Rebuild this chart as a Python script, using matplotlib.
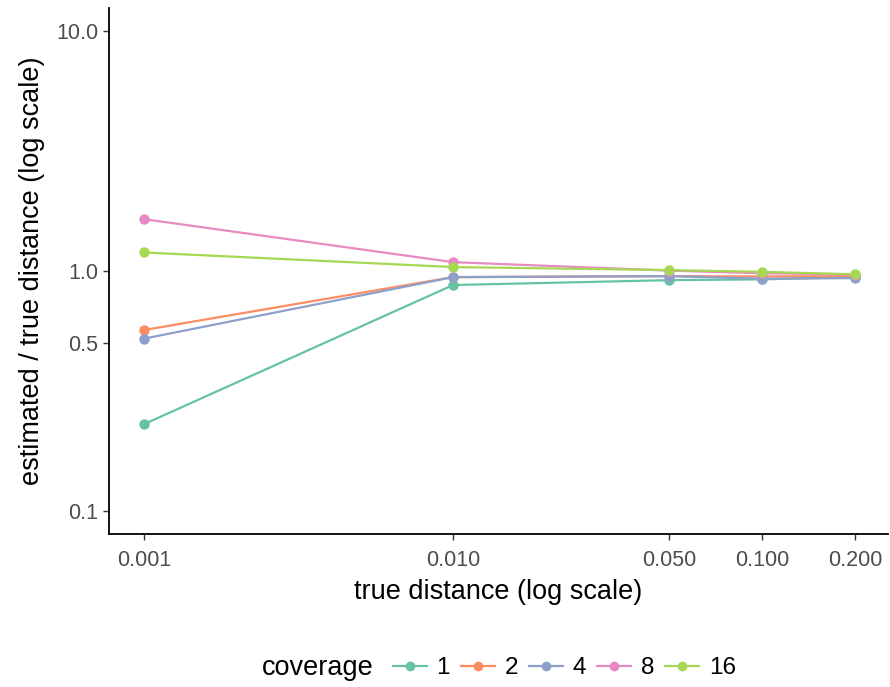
import numpy as np
import matplotlib
matplotlib.use("Agg")
import matplotlib.pyplot as plt
from matplotlib.ticker import FixedLocator, FixedFormatter, NullLocator
from matplotlib.lines import Line2D
from matplotlib.offsetbox import HPacker

plt.rcParams["font.family"] = ["Liberation Sans", "DejaVu Sans"]

# ── Data ──────────────────────────────────────────────────────────────────────
true_dist = [0.001, 0.010, 0.050, 0.100, 0.200]
coverage = ["1", "2", "4", "8", "16"]
ratio_cov1 = [0.230, 0.875, 0.917, 0.924, 0.944]
ratio_cov2 = [0.568, 0.944, 0.953, 0.950, 0.953]
ratio_cov4 = [0.523, 0.944, 0.953, 0.930, 0.935]
ratio_cov8 = [1.647, 1.090, 1.005, 0.980, 0.967]
ratio_cov16 = [1.196, 1.040, 1.010, 0.993, 0.970]
series = [ratio_cov1, ratio_cov2, ratio_cov4, ratio_cov8, ratio_cov16]
colors = ["#66C2A5", "#FC8D62", "#8DA0CB", "#E78AC3", "#A6D854"]

x_ticks = [0.001, 0.010, 0.050, 0.100, 0.200]
x_labels = ["0.001", "0.010", "0.050", "0.100", "0.200"]
y_ticks = [0.1, 0.5, 1.0, 10.0]
y_labels = ["0.1", "0.5", "1.0", "10.0"]

# ── Figure ────────────────────────────────────────────────────────────────────
fig = plt.figure(figsize=(8.9, 6.87), dpi=100)
ax = fig.add_axes([0.1225, 0.2227, 0.8755, 0.7653])

for vals, col in zip(series, colors):
    ax.plot(true_dist, vals, color=col, linewidth=1.6, zorder=2)
for vals, col in zip(series, colors):
    ax.plot(true_dist, vals, "o", color=col, markersize=7.5,
            markeredgewidth=0, zorder=3)

ax.set_xscale("log")
ax.set_yscale("log")
ax.set_xlim(10 ** -3.113, 10 ** -0.592)
ax.set_ylim(10 ** -1.096, 10 ** 1.096)

ax.xaxis.set_major_locator(FixedLocator(x_ticks))
ax.xaxis.set_major_formatter(FixedFormatter(x_labels))
ax.xaxis.set_minor_locator(NullLocator())
ax.yaxis.set_major_locator(FixedLocator(y_ticks))
ax.yaxis.set_major_formatter(FixedFormatter(y_labels))
ax.yaxis.set_minor_locator(NullLocator())

for sp in ["top", "right"]:
    ax.spines[sp].set_visible(False)
for sp in ["left", "bottom"]:
    ax.spines[sp].set_linewidth(1.3)
    ax.spines[sp].set_color("black")

ax.tick_params(axis="both", which="major", length=4.5, width=1.0,
               color="#333333", labelcolor="#4D4D4D", labelsize=15.5, pad=3)
ax.tick_params(axis="x", pad=7)

ax.set_xlabel("true distance (log scale)", fontsize=19.5, color="black", labelpad=6)
ax.set_ylabel("estimated / true distance (log scale)", fontsize=19.5, color="black",
              labelpad=8)

# ── Legend ────────────────────────────────────────────────────────────────────
handles = [Line2D([0], [0], color=c, linewidth=1.6, marker="o", markersize=7,
                  markeredgewidth=0) for c in colors]
leg = fig.legend(handles, coverage, title="coverage", loc="center",
                 bbox_to_anchor=(0.5605, 0.027), ncol=5, frameon=False,
                 fontsize=17.5, title_fontsize=19.5, handlelength=1.4,
                 handletextpad=0.4, columnspacing=0.45)
# put title to the left of the entries
title_box = leg._legend_title_box
entries = leg._legend_handle_box
leg._legend_box._children = [HPacker(pad=0, sep=14, align="center",
                                     children=[title_box, entries])]

fig.savefig("out.png", dpi=100)
